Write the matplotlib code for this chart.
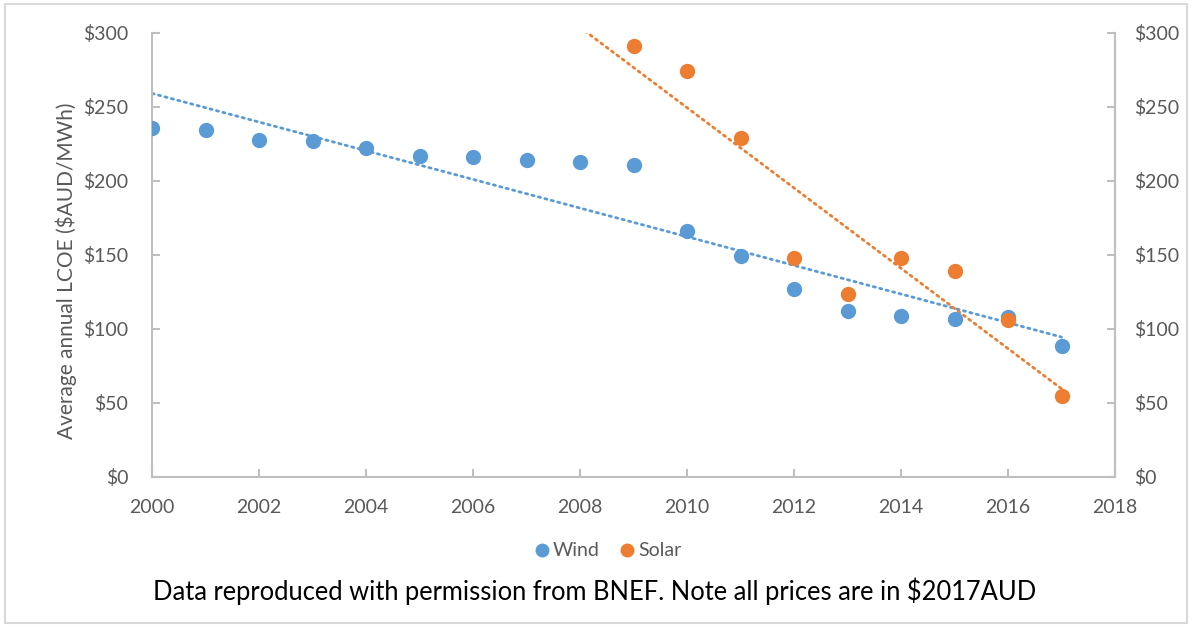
import numpy as np
import matplotlib
matplotlib.use("Agg")
import matplotlib.pyplot as plt
from matplotlib.patches import Rectangle

plt.rcParams['font.family'] = ['Lato', 'DejaVu Sans']

wind_years = [2000, 2001, 2002, 2003, 2004, 2005, 2006, 2007, 2008, 2009,
              2010, 2011, 2012, 2013, 2014, 2015, 2016, 2017]
wind_vals = [236, 234.5, 228, 227, 222, 217, 216, 214, 213, 210.5,
             166, 149, 127, 112, 109, 106.5, 108, 88.5]
solar_years = [2009, 2010, 2011, 2012, 2013, 2014, 2015, 2016, 2017]
solar_vals = [291, 274, 229, 148, 123.5, 148, 139, 106, 55]
y_ticks = [0, 50, 100, 150, 200, 250, 300]
x_ticks = list(range(2000, 2019, 2))

WIND = '#5B9BD5'
SOLAR = '#ED7D31'
GRAY = '#BFBFBF'
TXT = '#595959'

fig = plt.figure(figsize=(11.92, 6.27), dpi=100)
fig.patches.append(Rectangle((0.004, 0.006), 0.992, 0.988, transform=fig.transFigure,
                             fill=False, edgecolor='#D9D9D9', linewidth=1.5))
ax = fig.add_axes([152/1192, 1-477/627, (1115-152)/1192, (477-33)/627])

# trendlines (linear fits)
xw = np.array(wind_years, float)
pw = np.polyfit(xw, wind_vals, 1)
xs_w = np.array([2000, 2017])
ax.plot(xs_w, np.polyval(pw, xs_w), color=WIND, lw=2.0, linestyle=(0, (0.8, 1.6)),
        dash_capstyle='round', zorder=2)
ps = np.polyfit(np.array(solar_years, float), solar_vals, 1)
xs_s = np.array([2000, 2017])
ax.plot(xs_s, np.polyval(ps, xs_s), color=SOLAR, lw=2.0, linestyle=(0, (0.8, 1.6)),
        dash_capstyle='round', zorder=2)

ax.plot(wind_years, wind_vals, 'o', color=WIND, ms=10, label='Wind', zorder=3)
ax.plot(solar_years, solar_vals, 'o', color=SOLAR, ms=10, label='Solar', zorder=3)

ax.set_xlim(2000, 2018)
ax.set_ylim(0, 300)
ax.set_xticks(x_ticks)
ax.set_yticks(y_ticks)
ax.set_yticklabels([f'${v}' for v in y_ticks])
ax.spines['top'].set_visible(False)
for s in ['left', 'right', 'bottom']:
    ax.spines[s].set_color(GRAY)
    ax.spines[s].set_linewidth(1.5)
ax.tick_params(axis='both', direction='in', length=6, width=1.5, color=GRAY,
               labelcolor=TXT, labelsize=14)
ax.tick_params(axis='y', pad=17)
ax.tick_params(axis='x', pad=16)
ax.set_ylabel('Average annual LCOE ($AUD/MWh)', color=TXT, fontsize=15, va='center')
ax.yaxis.set_label_coords(-0.089, 0.465)

ax2 = ax.twinx()
ax2.set_ylim(0, 300)
ax2.set_yticks(y_ticks)
ax2.set_yticklabels([f'${v}' for v in y_ticks])
for s in ['top', 'left', 'bottom']:
    ax2.spines[s].set_visible(False)
ax2.spines['right'].set_color(GRAY)
ax2.spines['right'].set_linewidth(1.5)
ax2.tick_params(axis='y', direction='in', length=6, width=1.5, color=GRAY,
                labelcolor=TXT, labelsize=14, pad=14)

fig.legend(handles=ax.get_lines()[2:], labels=['Wind', 'Solar'], loc='center',
           bbox_to_anchor=(607/1192, 1-551/627), ncol=2, frameon=False,
           fontsize=14, labelcolor=TXT, handletextpad=0.05, columnspacing=0.9,
           markerscale=0.9, handlelength=1.0)
fig.text(595/1192, 1-591/627, 'Data reproduced with permission from BNEF. Note all prices are in $2017AUD',
         ha='center', va='center', fontsize=18.4, color='black')

fig.savefig('out.png', dpi=100)
